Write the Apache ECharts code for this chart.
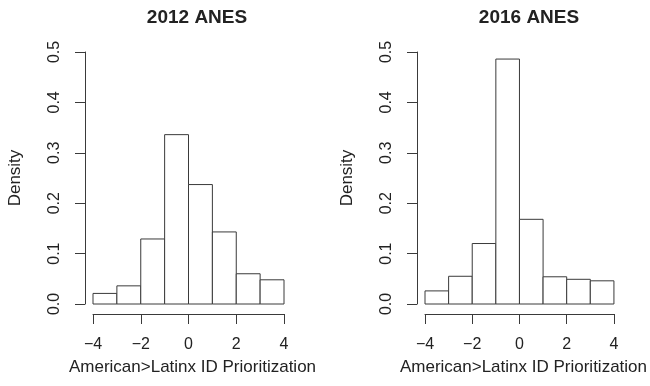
<!DOCTYPE html>
<html>
<head>
<meta charset="utf-8">
<style>
  html, body { margin: 0; padding: 0; background: #fff; }
  #chart { width: 650px; height: 386px; }
</style>
<script src="https://cdn.jsdelivr.net/npm/echarts@6/dist/echarts.min.js"></script>
</head>
<body>
<div id="chart"></div>
<script>
// Histogram bins (unit width) and densities for the two survey waves
const binEdges = [-4, -3, -2, -1, 0, 1, 2, 3, 4];
const density2012 = [0.021, 0.036, 0.129, 0.336, 0.237, 0.143, 0.060, 0.048];
const density2016 = [0.026, 0.055, 0.120, 0.486, 0.168, 0.054, 0.049, 0.046];
const panelTitles = ['2012 ANES', '2016 ANES'];
const xAxisTitle = 'American>Latinx ID Prioritization';
const yAxisTitle = 'Density';
const xRange = [-4, 4];
const yRange = [0, 0.5];

const FONT = '"Liberation Sans", Arial, Helvetica, sans-serif';
const INK = '#222';
const LINE = '#3a3a3a';

function binsFor(values) {
  return values.map((d, i) => [binEdges[i], binEdges[i + 1], d]);
}

function renderBin(params, api) {
  const top = api.coord([api.value(0), api.value(2)]);
  const base = api.coord([api.value(1), 0]);
  return {
    type: 'rect',
    shape: { x: top[0], y: top[1], width: base[0] - top[0], height: base[1] - top[1] },
    style: { fill: '#fff', stroke: LINE, lineWidth: 1 }
  };
}

const grids = [
  { left: 93, right: 366, top: 52, bottom: 82 },
  { left: 425, right: 35, top: 52, bottom: 82 }
];

function xAxisFor(idx) {
  return {
    gridIndex: idx, type: 'value', min: xRange[0], max: xRange[1], interval: 2,
    offset: 10,
    name: xAxisTitle, nameLocation: 'middle', nameGap: 45,
    nameTextStyle: { fontFamily: FONT, fontSize: 17, color: INK, padding: [0, 0, 0, 8] },
    axisLine: { show: true, onZero: false, lineStyle: { color: LINE, width: 1 } },
    axisTick: { show: true, length: 10, lineStyle: { color: LINE, width: 1 } },
    axisLabel: {
      margin: 23, fontFamily: FONT, fontSize: 16, color: INK,
      formatter: v => String(v).replace('-', '\u2212')
    },
    splitLine: { show: false }
  };
}

function yAxisFor(idx) {
  return {
    gridIndex: idx, type: 'value', min: yRange[0], max: yRange[1], interval: 0.1,
    offset: 8,
    name: yAxisTitle, nameLocation: 'middle', nameGap: 61,
    nameTextStyle: { fontFamily: FONT, fontSize: 17, color: INK },
    axisLine: { show: true, onZero: false, lineStyle: { color: LINE, width: 1 } },
    axisTick: { show: true, length: 10, lineStyle: { color: LINE, width: 1 } },
    axisLabel: {
      margin: 22, rotate: 90, fontFamily: FONT, fontSize: 16, color: INK,
      formatter: v => v.toFixed(1)
    },
    splitLine: { show: false }
  };
}

const chart = echarts.init(document.getElementById('chart'), null, { renderer: 'canvas' });
chart.setOption({
  animation: false,
  backgroundColor: '#fff',
  title: [
    { text: panelTitles[0], left: 192, top: 3, textAlign: 'center',
      textStyle: { fontFamily: FONT, fontSize: 19, fontWeight: 'bold', color: INK } },
    { text: panelTitles[1], left: 524, top: 3, textAlign: 'center',
      textStyle: { fontFamily: FONT, fontSize: 19, fontWeight: 'bold', color: INK } }
  ],
  grid: grids,
  xAxis: [xAxisFor(0), xAxisFor(1)],
  yAxis: [yAxisFor(0), yAxisFor(1)],
  series: [
    { type: 'custom', xAxisIndex: 0, yAxisIndex: 0, renderItem: renderBin,
      encode: { x: [0, 1], y: 2 }, data: binsFor(density2012) },
    { type: 'custom', xAxisIndex: 1, yAxisIndex: 1, renderItem: renderBin,
      encode: { x: [0, 1], y: 2 }, data: binsFor(density2016) }
  ]
});
</script>
</body>
</html>
